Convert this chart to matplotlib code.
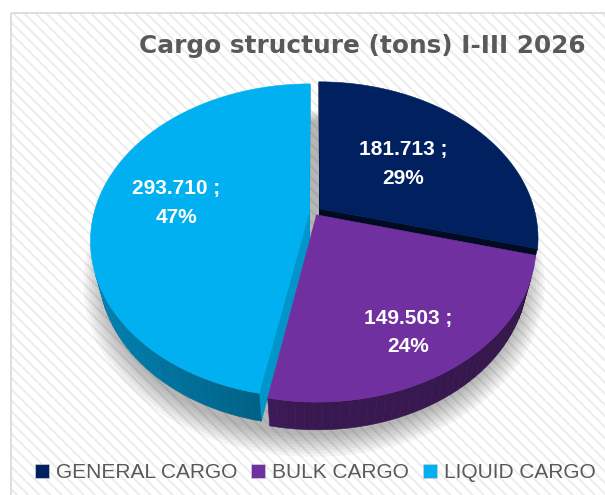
import numpy as np
import matplotlib
matplotlib.use("Agg")
import matplotlib.pyplot as plt
from matplotlib.patches import Polygon, Rectangle, Patch
from matplotlib.colors import to_rgb

# data
categories = ["GENERAL CARGO", "BULK CARGO", "LIQUID CARGO"]
tons = [181.713, 149.503, 293.710]
tons_text = ["181.713", "149.503", "293.710"]
colors = ["#002060", "#7030A0", "#00B0F0"]
title = "Cargo structure (tons) I-III 2026"

# 3d pie look
explode = [0.035, 0.022, 0.022]
label_radius = [0.52, 0.77, 0.63]
label_pos = [0.5, 0.54, 0.5]     # where along each slice the label sits
side_shade = [0.35, 0.6, 0.85]   # radial cut faces
CX, CY = 314, 212
SCALE = 215
ELEV = np.radians(44.8)
DIST = 3.84
THICK = 0.2

W, H = 605, 495


def project(u, v, z):
    u, v, z = np.asarray(u, float), np.asarray(v, float), np.asarray(z, float)
    yc = z * np.cos(ELEV) + v * np.sin(ELEV)
    d = DIST + v * np.cos(ELEV) - z * np.sin(ELEV)
    k = DIST / d
    return CX + SCALE * u * k, CY - SCALE * yc * k


def depth(u, v, z):
    return DIST + v * np.cos(ELEV) - z * np.sin(ELEV)


CAM = np.array([0.0, -DIST * np.cos(ELEV), DIST * np.sin(ELEV)])


def visible(normal, point):
    return np.dot(normal, CAM - point) > 0


def shade(col, f):
    r, g, b = to_rgb(col)
    return (r * f, g * f, b * f)


def wall_factor(th):
    return 0.42 + 0.3 * max(0.0, -np.sin(th)) + 0.08 * max(0.0, -np.cos(th))


fig = plt.figure(figsize=(W / 100, H / 100), dpi=100)
ax = fig.add_axes([0, 0, 1, 1])
ax.set_xlim(0, W)
ax.set_ylim(H, 0)
ax.axis("off")

# chart area with the striped fill
plt.rcParams["hatch.linewidth"] = 1.4
ax.add_patch(Rectangle((11, 13), W, H, facecolor="white", edgecolor="#ececec",
                       hatch="\\\\\\", linewidth=0, zorder=0))
ax.add_patch(Rectangle((11, 13), W, H, facecolor="none", edgecolor="#d9d9d9",
                       linewidth=1.2, zorder=0.5))

total = sum(tons)
fracs = [t / total for t in tons]
starts = np.cumsum([0] + fracs[:-1]) * 2 * np.pi
ends = np.cumsum(fracs) * 2 * np.pi

# soft shadow under the pie
ring = np.linspace(0, 2 * np.pi, 200)
for i in range(8):
    rr = 1.0 + 0.013 * i
    sx, sy = project(rr * np.sin(ring), rr * np.cos(ring) - 0.02, -THICK - 0.02)
    ax.add_patch(Polygon(np.column_stack([sx, sy + 3]), closed=True,
                         facecolor="black", edgecolor="none", alpha=0.04, zorder=1))

walls = []
tops = []
for i in range(len(tons)):
    t0, t1 = starts[i], ends[i]
    mid = (t0 + t1) / 2
    ou, ov = explode[i] * np.sin(mid), explode[i] * np.cos(mid)
    col = colors[i]

    # outer curved wall in small pieces
    n = max(8, int((t1 - t0) / np.radians(2)))
    ths = np.linspace(t0, t1, n + 1)
    for a, b in zip(ths[:-1], ths[1:]):
        m = (a + b) / 2
        p = np.array([ou + np.sin(m), ov + np.cos(m), -THICK / 2])
        nrm = np.array([np.sin(m), np.cos(m), 0.0])
        if not visible(nrm, p):
            continue
        us = ou + np.sin([a, b, b, a])
        vs = ov + np.cos([a, b, b, a])
        zs = np.array([0, 0, -THICK, -THICK])
        sx, sy = project(us, vs, zs)
        walls.append((depth(*p), np.column_stack([sx, sy]), shade(col, wall_factor(m))))

    # radial cut faces
    for th, sign in ((t0, -1), (t1, 1)):
        nth = th + sign * np.pi / 2
        nrm = np.array([np.sin(nth), np.cos(nth), 0.0])
        p = np.array([ou + 0.5 * np.sin(th), ov + 0.5 * np.cos(th), -THICK / 2])
        if not visible(nrm, p):
            continue
        us = ou + np.array([0, np.sin(th), np.sin(th), 0])
        vs = ov + np.array([0, np.cos(th), np.cos(th), 0])
        zs = np.array([0, 0, -THICK, -THICK])
        sx, sy = project(us, vs, zs)
        walls.append((depth(*p), np.column_stack([sx, sy]), shade(col, side_shade[i])))

    arc = np.linspace(t0, t1, 200)
    us = np.concatenate([[ou], ou + np.sin(arc)])
    vs = np.concatenate([[ov], ov + np.cos(arc)])
    sx, sy = project(us, vs, np.zeros_like(us))
    tops.append((np.column_stack([sx, sy]), col))

walls.sort(key=lambda w: -w[0])
for _, pts, c in walls:
    ax.add_patch(Polygon(pts, closed=True, facecolor=c, edgecolor=c,
                         linewidth=0.4, zorder=2))
for pts, c in tops:
    ax.add_patch(Polygon(pts, closed=True, facecolor=c, edgecolor=c,
                         linewidth=0.4, zorder=3))

# data labels
for i in range(len(tons)):
    ang = starts[i] + label_pos[i] * (ends[i] - starts[i])
    mid = (starts[i] + ends[i]) / 2
    r = label_radius[i]
    lu = r * np.sin(ang) + explode[i] * np.sin(mid)
    lv = r * np.cos(ang) + explode[i] * np.cos(mid)
    lx, ly = project(lu, lv, 0.0)
    ax.text(lx, ly, f"{tons_text[i]} ;\n{fracs[i] * 100:.0f}%", ha="center", va="center",
            color="white", fontsize=15, fontweight="bold", family="Liberation Sans",
            linespacing=1.65, zorder=4)

ax.text(139, 53, title, ha="left", va="baseline", fontsize=17.8, fontweight="bold",
        color="#595959", family="DejaVu Sans", zorder=4)

handles = [Patch(facecolor=c, edgecolor="#d0d0d0", linewidth=0.5) for c in colors]
ax.legend(handles, categories, loc="center left", bbox_to_anchor=(35 / W, 1 - 473 / H),
          ncol=3, frameon=False, labelcolor="#595959",
          prop={"family": "Liberation Sans", "size": 15},
          handlelength=0.67, handleheight=0.67, handletextpad=0.34,
          columnspacing=0.67, borderpad=0, borderaxespad=0)

fig.savefig("out.png", dpi=100)
